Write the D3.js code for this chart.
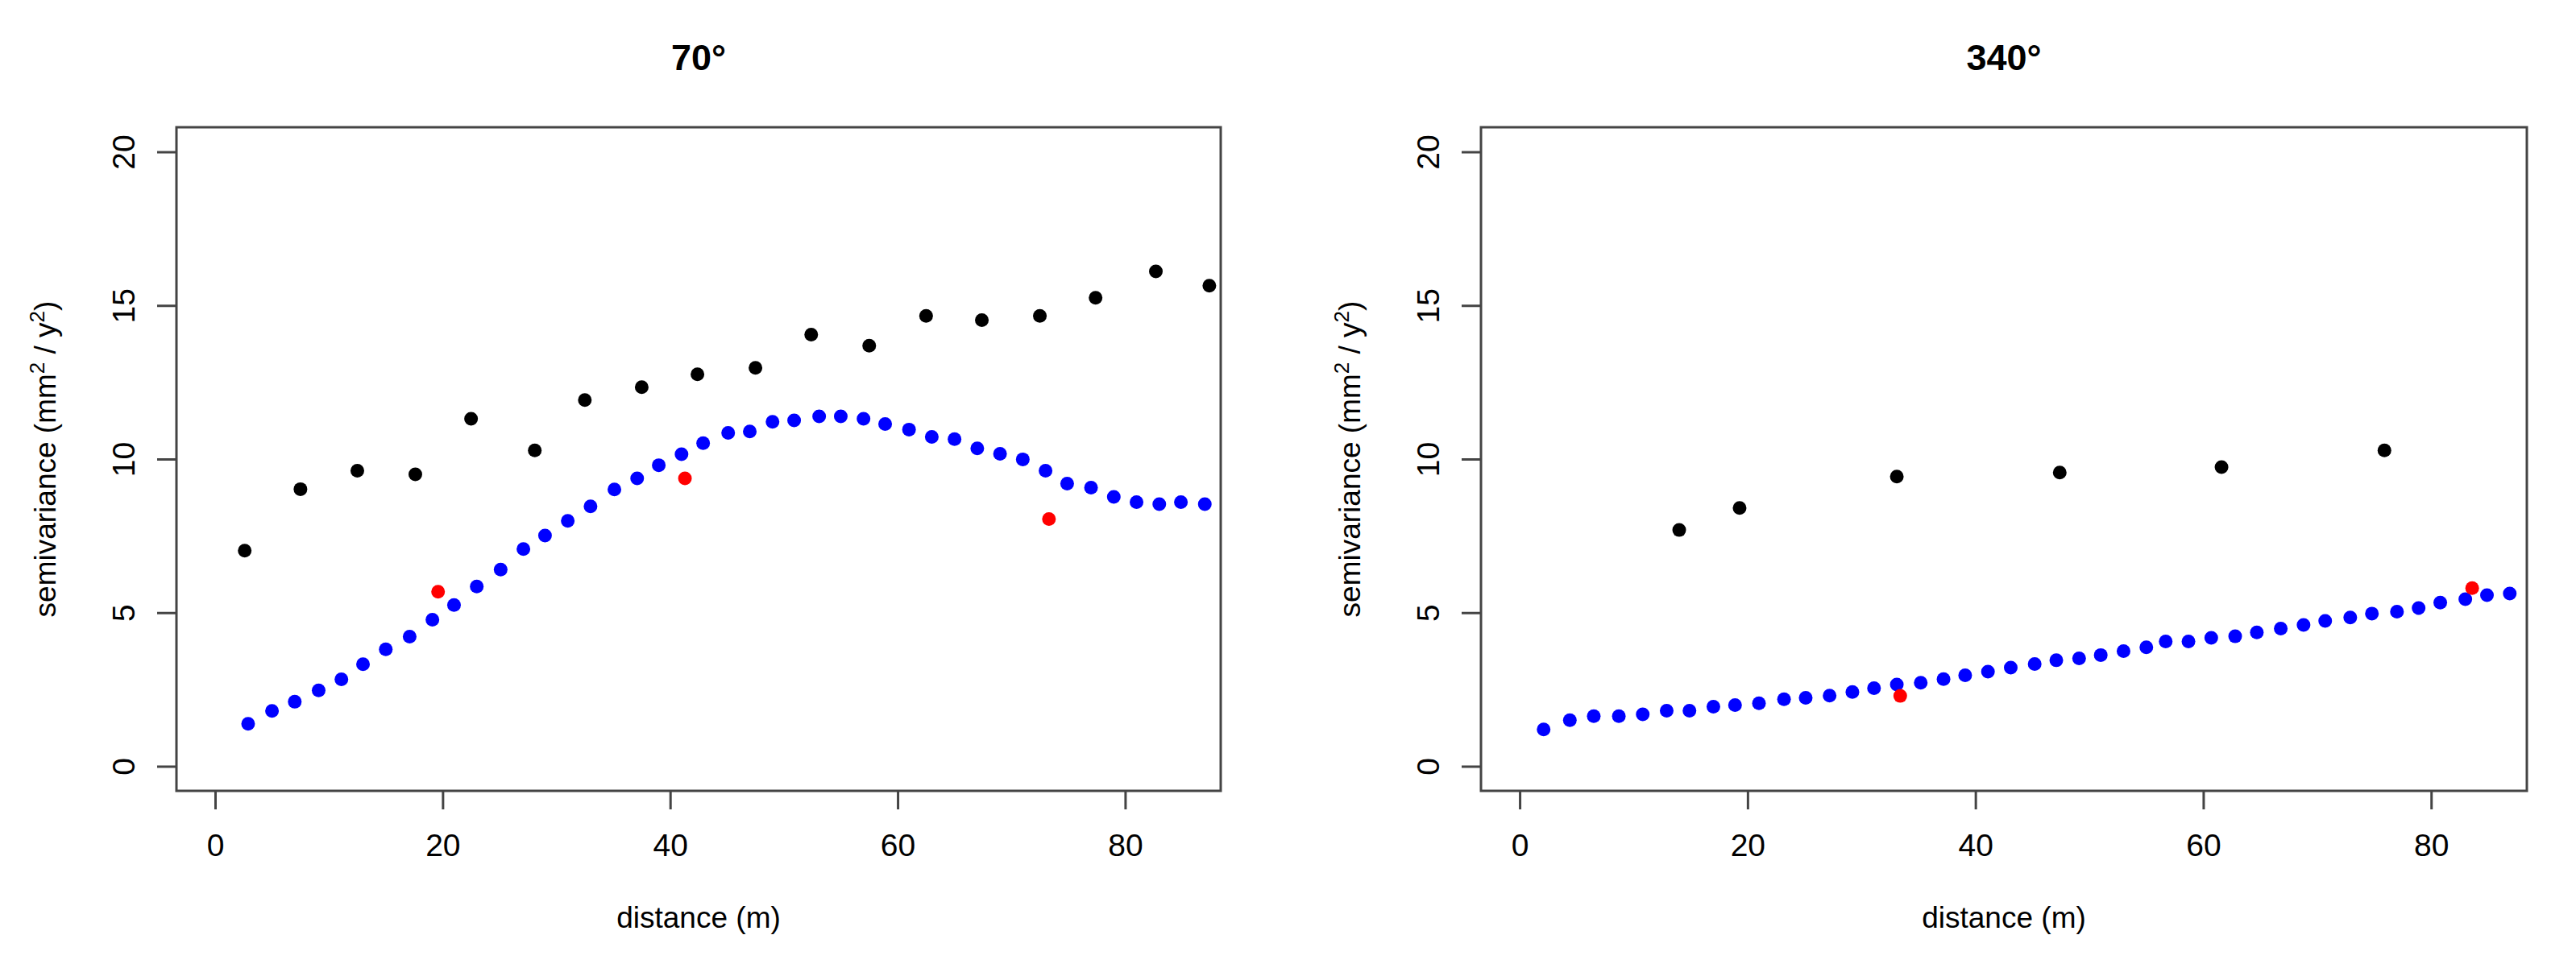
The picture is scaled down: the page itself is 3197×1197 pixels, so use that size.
<!DOCTYPE html>
<html>
<head>
<meta charset="utf-8">
<script src="https://cdn.jsdelivr.net/npm/d3@7"></script>
<style>
  body { margin: 0; background: #fff; }
  text { font-family: "Liberation Sans", Arial, sans-serif; fill: #000; }
</style>
</head>
<body>
<div id="chart"></div>
<script>
// Data
const xTicks = [0, 20, 40, 60, 80];
const yTicks = [0, 5, 10, 15, 20];

// 70 degrees
const leftBlackX = [2.6, 7.5, 12.5, 17.6, 22.5, 28.1, 32.5, 37.5, 42.4, 47.5, 52.4, 57.5, 62.5, 67.4, 72.5, 77.4, 82.7, 87.4];
const leftBlackY = [7.02, 9.02, 9.62, 9.50, 11.31, 10.28, 11.92, 12.34, 12.76, 12.97, 14.05, 13.69, 14.66, 14.52, 14.66, 15.25, 16.11, 15.64];
const leftBlueX = [2.9, 5.0, 7.0, 9.1, 11.1, 13.0, 15.0, 17.1, 19.1, 21.0, 23.0, 25.1, 27.1, 29.0, 31.0, 33.0, 35.1, 37.1, 39.0, 41.0, 42.9, 45.1, 47.0, 49.0, 50.9, 53.1, 55.0, 57.0, 58.9, 61.0, 63.0, 65.0, 67.0, 69.0, 71.0, 73.0, 74.9, 77.0, 79.0, 81.0, 83.0, 84.9, 87.0];
const leftBlueY = [1.38, 1.80, 2.10, 2.47, 2.83, 3.32, 3.81, 4.22, 4.77, 5.25, 5.85, 6.40, 7.07, 7.51, 7.99, 8.46, 9.01, 9.37, 9.80, 10.16, 10.52, 10.85, 10.90, 11.21, 11.26, 11.39, 11.39, 11.31, 11.14, 10.96, 10.72, 10.65, 10.35, 10.17, 9.99, 9.62, 9.20, 9.07, 8.77, 8.60, 8.53, 8.60, 8.53];
const leftRedX = [19.6, 41.3, 73.3];
const leftRedY = [5.68, 9.37, 8.05];

// 340 degrees
const rightBlackX = [14.0, 19.3, 33.1, 47.4, 61.6, 75.9];
const rightBlackY = [7.69, 8.41, 9.43, 9.56, 9.74, 10.28];
const rightBlueX = [2.1, 4.4, 6.5, 8.7, 10.8, 12.9, 14.9, 17.0, 18.9, 21.0, 23.2, 25.1, 27.2, 29.2, 31.1, 33.1, 35.2, 37.2, 39.1, 41.1, 43.1, 45.2, 47.1, 49.1, 51.0, 53.0, 55.0, 56.7, 58.7, 60.7, 62.8, 64.7, 66.8, 68.8, 70.7, 72.9, 74.8, 77.0, 78.9, 80.8, 83.0, 84.9, 86.9];
const rightBlueY = [1.20, 1.50, 1.63, 1.63, 1.69, 1.81, 1.81, 1.94, 1.99, 2.05, 2.18, 2.23, 2.30, 2.42, 2.54, 2.66, 2.72, 2.84, 2.96, 3.08, 3.21, 3.33, 3.45, 3.51, 3.62, 3.75, 3.87, 4.06, 4.06, 4.18, 4.23, 4.36, 4.48, 4.60, 4.73, 4.84, 4.97, 5.03, 5.15, 5.33, 5.44, 5.57, 5.62];
const rightRedX = [33.4, 83.6];
const rightRedY = [2.29, 5.80];

const zip = (xs, ys) => xs.map((x, i) => ({ x: x, y: ys[i] }));

const width = 3197, height = 1197;
const plotTop = 158, plotBottom = 982;

const svg = d3.select("#chart")
  .append("svg")
  .attr("width", width)
  .attr("height", height);

svg.append("rect")
  .attr("width", width)
  .attr("height", height)
  .attr("fill", "#fff");

function drawPanel(opts) {
  // R style: xlim c(0,85) and ylim c(0,20), each padded 4%
  const xScale = d3.scaleLinear().domain([-3.4, 88.4]).range([opts.left, opts.right]);
  const yScale = d3.scaleLinear().domain([-0.8, 20.8]).range([plotBottom, plotTop]);
  const g = svg.append("g");

  // x axis
  const xAxis = g.append("g")
    .attr("transform", `translate(0, ${plotBottom})`)
    .call(d3.axisBottom(xScale).tickValues(xTicks).tickSize(23).tickFormat(d3.format("d")));
  xAxis.select(".domain").remove();
  xAxis.selectAll("line").attr("stroke", "#444").attr("stroke-width", 3);
  xAxis.selectAll("text")
    .attr("y", 81).attr("dy", null)
    .attr("fill", "#000")
    .style("font-size", "39px");

  // y axis, labels parallel to the axis
  const yAxis = g.append("g")
    .attr("transform", `translate(${opts.left}, 0)`)
    .call(d3.axisLeft(yScale).tickValues(yTicks).tickSize(24).tickFormat(d3.format("d")));
  yAxis.select(".domain").remove();
  yAxis.selectAll("line").attr("stroke", "#444").attr("stroke-width", 3);
  yAxis.selectAll("text")
    .attr("x", null).attr("dy", null)
    .attr("transform", "translate(-52, 0) rotate(-90)")
    .attr("text-anchor", "middle")
    .attr("fill", "#000")
    .style("font-size", "39px");

  // box
  g.append("rect")
    .attr("x", opts.left)
    .attr("y", plotTop)
    .attr("width", opts.right - opts.left)
    .attr("height", plotBottom - plotTop)
    .attr("fill", "none")
    .attr("stroke", "#444")
    .attr("stroke-width", 3);

  const mid = (opts.left + opts.right) / 2;

  // title
  g.append("text")
    .attr("x", mid)
    .attr("y", 87)
    .attr("text-anchor", "middle")
    .style("font-size", "45px")
    .style("font-weight", "bold")
    .text(opts.title);

  // axis labels
  g.append("text")
    .attr("x", mid)
    .attr("y", 1152)
    .attr("text-anchor", "middle")
    .style("font-size", "37px")
    .text("distance (m)");

  const yl = g.append("text")
    .attr("transform", `translate(${opts.left - 150}, ${(plotTop + plotBottom) / 2}) rotate(-90)`)
    .attr("text-anchor", "middle")
    .style("font-size", "37px");
  yl.append("tspan").text("semivariance (mm");
  yl.append("tspan").attr("dy", -14).style("font-size", "26px").text("2");
  yl.append("tspan").attr("dy", 14).text(" / y");
  yl.append("tspan").attr("dy", -14).style("font-size", "26px").text("2");
  yl.append("tspan").attr("dy", 14).text(")");

  // points: experimental (black), fitted (blue), extra (red)
  const layers = [
    { data: zip(opts.blackX, opts.blackY), color: "#000000" },
    { data: zip(opts.blueX, opts.blueY), color: "#0000FF" },
    { data: zip(opts.redX, opts.redY), color: "#FF0000" }
  ];
  layers.forEach(layer => {
    g.append("g")
      .selectAll("circle")
      .data(layer.data)
      .enter()
      .append("circle")
      .attr("cx", d => xScale(d.x))
      .attr("cy", d => yScale(d.y))
      .attr("r", 8.5)
      .attr("fill", layer.color);
  });
}

drawPanel({
  title: "70°", left: 219, right: 1515,
  blackX: leftBlackX, blackY: leftBlackY,
  blueX: leftBlueX, blueY: leftBlueY,
  redX: leftRedX, redY: leftRedY
});

drawPanel({
  title: "340°", left: 1838, right: 3136,
  blackX: rightBlackX, blackY: rightBlackY,
  blueX: rightBlueX, blueY: rightBlueY,
  redX: rightRedX, redY: rightRedY
});
</script>
</body>
</html>
